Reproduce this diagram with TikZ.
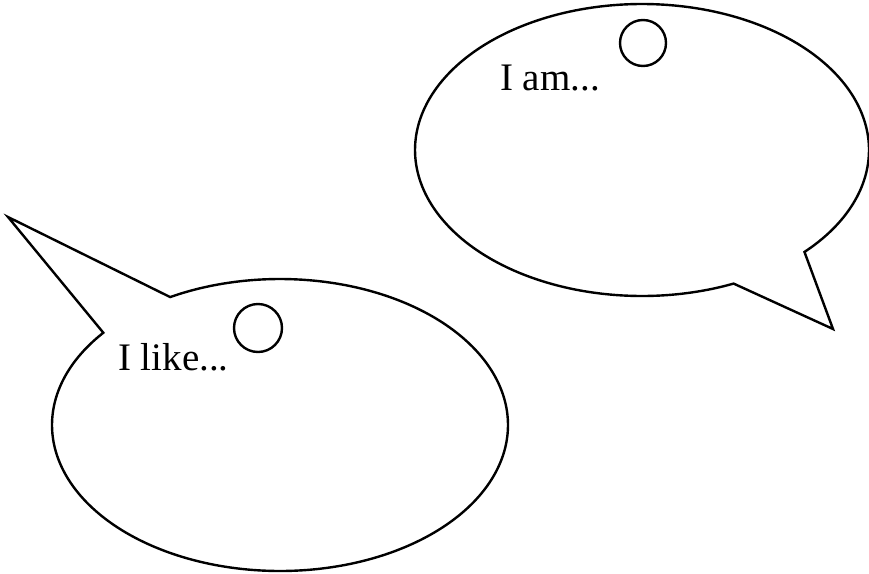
\documentclass[tikz,border=0pt]{standalone}
\usepackage{fontspec}
\setmainfont{Liberation Serif}
\begin{document}
\begin{tikzpicture}[x=1pt,y=-1pt,
  bubble/.style={draw=black,line width=2.4pt,line join=miter},
  hole/.style={draw=black,line width=2.4pt,circle,minimum size=46pt,inner sep=0pt},
  label/.style={anchor=base west,inner sep=0pt,font=\fontsize{39}{41}\selectfont,text=black}]
\useasboundingbox (0,0) rectangle (869,573);
% top-right bubble
\coordinate (tipA) at (833,329);
\draw[bubble] (tipA) -- plot[domain=66.2:404.3,samples=120,smooth] ({642+227*cos(\x)},{150+146*sin(\x)}) -- cycle;
% bottom-left bubble
\coordinate (tipB) at (8,217);
\draw[bubble] (tipB) -- plot[domain=241.2:579.2,samples=120,smooth] ({280+228*cos(\x)},{425+146*sin(\x)}) -- cycle;
% circles
\node[hole] (holeA) at (643,43) {};
\node[hole,minimum size=48pt] (holeB) at (258,328) {};
% texts
\node[label] (textA) at (500,90) {I am...};
\node[label] (textB) at (118,370) {I like...};
\end{tikzpicture}
\end{document}
